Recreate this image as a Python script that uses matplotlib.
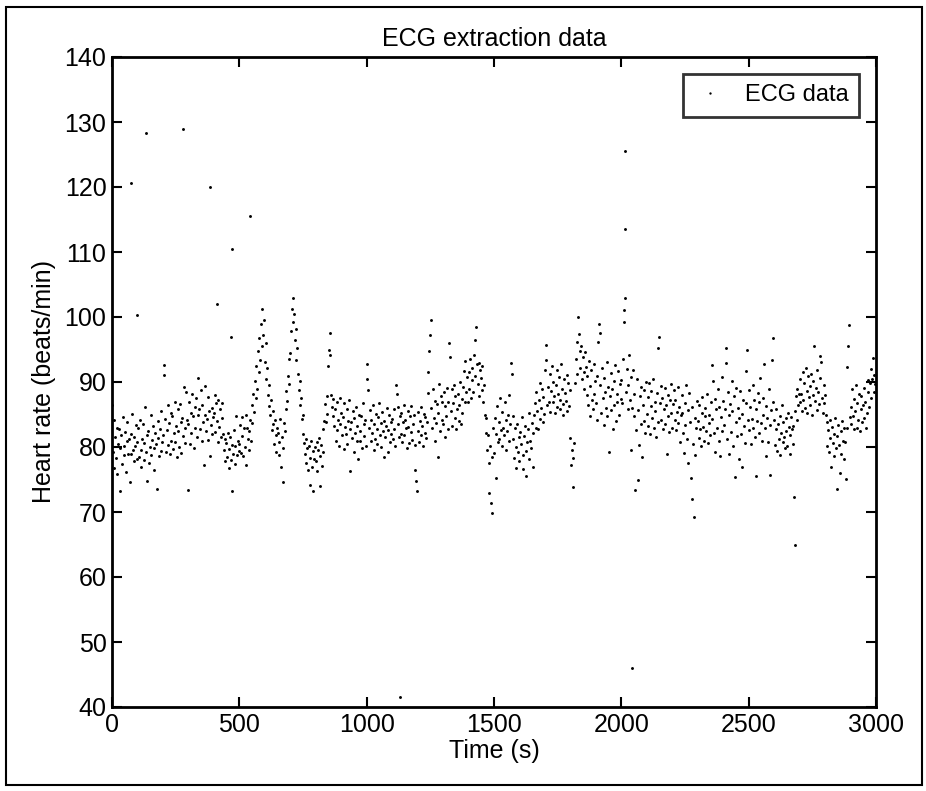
import numpy as np
import matplotlib
matplotlib.use("Agg")
import matplotlib.pyplot as plt
from matplotlib.patches import Rectangle

plt.rcParams["font.family"] = ["Liberation Sans", "DejaVu Sans"]

# Beat-by-beat heart rate (beats/min), one list per 500 s block
hr_0000_0500 = [
    86.5, 79.2, 84.1, 76.8, 81.5, 78.3, 83.0, 75.9, 80.4, 82.7, 73.2, 79.8, 81.9, 77.4, 84.6, 80.1, 78.7, 82.3, 76.2, 80.9, 83.8, 79.0, 81.2, 74.6, 78.9, 82.0, 85.1, 79.5, 77.8, 81.6, 80.2, 83.4, 78.1,
    80.8, 82.9, 78.4, 84.2, 79.6, 76.9, 81.3, 83.5, 78.0, 80.6, 86.1, 79.3, 74.8, 81.8, 82.5, 77.6, 80.0, 84.9, 78.8, 81.1, 83.2, 76.4, 79.9, 82.2, 80.5, 73.5, 81.4, 84.0, 78.6, 82.8, 79.4, 85.6, 80.7,
    81.9, 92.6, 91.1, 84.3, 79.2, 82.6, 86.4, 80.3, 83.7, 78.9, 85.2, 81.0, 84.8, 79.7, 82.1, 87.0, 80.8, 83.3, 78.4, 85.9, 82.4, 80.0, 86.6, 83.9, 79.1, 84.5, 81.7, 89.3, 82.9, 80.6, 88.5, 84.1, 73.4,
    83.6, 86.9, 80.4, 85.3, 82.2, 88.1, 84.7, 79.8, 86.2, 83.0, 87.5, 81.5, 84.9, 90.6, 85.8, 82.7, 88.8, 80.9, 86.4, 83.8, 77.2, 85.0, 89.4, 82.5, 84.3, 87.7, 81.1, 85.6, 78.6, 83.4, 86.0, 82.0, 84.6,
    85.2, 88.0, 82.3, 86.7, 84.0, 80.8, 87.3, 83.1, 85.9, 81.6, 84.4, 86.8, 82.0, 79.5, 81.2, 77.9, 80.6, 78.4, 82.1, 76.8, 79.7, 81.5, 78.0, 80.3, 73.3, 79.0, 82.6, 77.4, 80.1, 84.8, 78.8, 81.0, 79.4,
]
hr_0500_1000 = [
    80.5, 83.4, 79.1, 84.6, 81.7, 78.6, 82.9, 80.0, 85.0, 77.2, 83.0, 81.3, 79.6, 82.4, 84.2, 80.9, 86.5, 83.7, 88.1, 85.4, 90.2, 87.6, 92.5, 89.0, 94.8, 91.6, 96.7, 93.4, 98.9, 95.5, 101.2, 97.3, 99.6,
    93.1, 96.0, 90.4, 92.2, 88.0, 89.5, 86.3, 84.9, 87.2, 82.6, 85.6, 83.5, 80.4, 84.1, 81.9, 79.2, 83.0, 82.1, 78.7, 80.8, 84.3, 76.9, 81.5, 74.6, 79.9, 83.7, 82.5, 85.8, 88.6, 87.1, 91.0, 89.7, 93.6,
    94.5, 97.8, 101.3, 103.0, 99.2, 100.4, 96.5, 98.1, 93.4, 95.3, 91.2, 88.7, 90.1, 86.4, 87.5, 84.3, 82.0, 85.0, 80.6, 78.9, 81.3, 77.5, 79.8, 76.4, 80.2, 74.1, 78.3, 81.0, 77.0, 79.4, 73.2, 78.1, 80.0,
    77.8, 80.7, 76.3, 79.5, 81.4, 74.0, 78.6, 80.3, 77.1, 82.8, 79.2, 84.0, 86.6, 83.9, 87.8, 85.1, 92.5, 95.0, 97.6, 94.1, 88.0, 86.2, 84.7, 87.4, 83.2, 85.8, 81.0, 86.9, 82.6, 84.2, 80.1, 87.6, 83.5,
    85.3, 81.8, 84.6, 79.7, 86.8, 83.1, 82.0, 85.9, 80.5, 84.0, 87.3, 82.7, 76.3, 83.8, 81.4, 85.5, 79.2, 84.4, 82.2, 86.2, 80.9, 83.3, 78.1, 85.0, 82.5, 81.0, 84.8, 79.8, 86.7, 83.6, 81.7, 84.1, 80.2,
]
hr_1000_1500 = [
    92.8, 90.4, 88.7, 83.0, 85.7, 80.9, 84.2, 82.1, 86.4, 79.6, 83.5, 81.3, 85.1, 82.8, 80.4, 84.6, 86.8, 81.9, 83.7, 80.0, 85.4, 82.4, 78.5, 84.0, 81.6, 83.2, 86.0, 79.3, 82.6, 84.9, 80.7, 83.9, 82.0,
    84.3, 81.2, 85.8, 82.7, 80.1, 89.6, 88.2, 83.6, 86.1, 81.5, 84.7, 82.0, 85.3, 80.8, 83.9, 86.5, 81.8, 84.1, 82.9, 79.9, 85.6, 83.1, 80.6, 84.8, 82.3, 86.3, 81.1, 83.5, 85.0, 80.3, 76.5, 74.8, 73.2,
    82.5, 85.4, 80.7, 84.0, 81.8, 86.2, 83.3, 80.2, 85.1, 82.1, 84.6, 81.4, 83.8, 88.3, 91.6, 94.8, 97.2, 99.5, 86.0, 82.9, 88.9, 84.5, 81.0, 87.1, 83.7, 86.6, 78.5, 85.2, 89.7, 82.4, 87.8, 84.1, 86.9,
    83.6, 88.4, 81.5, 86.3, 84.8, 89.1, 82.7, 87.0, 96.0, 93.8, 85.5, 88.9, 83.2, 86.7, 89.6, 84.4, 87.9, 82.8, 85.9, 88.2, 84.0, 86.5, 90.0, 83.5, 87.4, 85.2, 89.3, 91.7, 87.0, 93.2, 88.5, 90.8, 86.9,
    91.5, 89.0, 93.6, 87.6, 92.1, 90.3, 88.4, 94.2, 91.0, 96.4, 98.5, 92.8, 89.7, 93.0, 87.9, 91.9, 90.6, 88.8, 92.5, 86.9, 89.5, 85.0, 82.1, 84.4, 79.6, 81.8, 77.5, 73.0, 80.2, 71.4, 78.4, 69.8, 83.0,
]
hr_1500_2000 = [
    79.1, 84.5, 75.2, 82.0, 86.3, 80.7, 83.9, 81.3, 87.6, 82.6, 80.1, 85.4, 83.0, 81.8, 86.9, 84.1, 79.6, 82.4, 85.0, 80.9, 88.0, 83.5, 93.0, 91.2, 81.2, 84.8, 78.3, 82.9, 80.0, 76.8, 83.6, 79.2, 81.5,
    77.9, 82.3, 80.4, 84.6, 78.8, 76.6, 81.7, 83.2, 79.4, 75.6, 80.8, 82.8, 78.2, 85.3, 81.0, 79.8, 83.7, 77.0, 82.1, 84.9, 86.7, 83.0, 88.4, 85.6, 82.7, 87.2, 89.8, 84.3, 86.0, 88.9, 83.8, 87.7, 85.1,
    91.8, 95.7, 93.4, 86.5, 89.2, 87.0, 91.3, 85.4, 88.6, 92.4, 86.9, 90.0, 87.8, 85.2, 89.6, 91.9, 86.2, 88.1, 90.7, 85.8, 87.3, 92.8, 89.0, 86.6, 84.9, 90.4, 88.3, 87.1, 91.1, 85.6, 89.9, 86.3, 88.8,
    81.4, 77.2, 79.5, 73.9, 78.3, 80.6, 89.8, 93.5, 91.2, 96.1, 100.0, 97.4, 94.8, 92.1, 95.6, 90.5, 93.9, 91.5, 89.0, 94.6, 92.3, 88.0, 90.9, 86.4, 93.2, 84.7, 89.4, 91.8, 87.3, 85.9, 92.7, 88.1, 90.2,
    86.8, 91.0, 84.2, 96.2, 99.0, 97.5, 89.5, 85.3, 92.2, 87.6, 83.4, 90.6, 88.5, 86.0, 93.1, 84.8, 89.2, 79.2, 87.9, 91.4, 85.7, 88.9, 82.8, 90.1, 86.5, 92.6, 84.0, 88.2, 86.9, 91.7, 85.0, 89.7, 87.4,
]
hr_2000_2500 = [
    90.3, 86.7, 93.5, 99.2, 101.1, 103.0, 88.4, 92.0, 85.9, 89.6, 94.1, 87.2, 79.5, 90.8, 86.0, 91.9, 84.8, 88.2, 73.4, 82.6, 90.5, 75.0, 85.7, 80.3, 87.9, 83.6, 89.3, 78.5, 86.4, 84.0, 88.8, 82.2, 90.0,
    85.1, 87.7, 83.3, 89.9, 82.0, 86.3, 88.6, 84.4, 90.5, 82.9, 87.0, 85.6, 81.6, 88.3, 83.8, 95.2, 97.0, 86.8, 89.4, 84.2, 87.5, 82.7, 85.9, 89.1, 83.5, 86.4, 79.0, 88.0, 84.7, 82.3, 87.2, 85.3, 89.7,
    83.0, 86.6, 88.8, 84.1, 87.3, 82.6, 85.4, 89.2, 83.7, 86.1, 80.8, 84.9, 88.0, 85.2, 82.1, 79.1, 86.8, 83.4, 89.6, 81.3, 85.7, 77.6, 88.3, 83.9, 75.2, 86.2, 72.0, 80.4, 69.2, 84.5, 78.8, 82.9, 87.1,
    84.0, 81.4, 86.5, 82.8, 80.2, 85.3, 87.7, 83.1, 81.0, 84.7, 86.0, 82.4, 88.2, 80.6, 85.0, 83.7, 81.9, 86.9, 84.3, 92.6, 90.1, 82.1, 87.4, 79.3, 85.8, 83.0, 88.9, 80.9, 86.2, 78.6, 84.6, 90.7, 82.5,
    87.1, 83.4, 85.9, 95.3, 93.0, 81.2, 88.4, 84.9, 79.0, 86.6, 82.3, 90.2, 85.5, 80.1, 87.8, 75.4, 83.9, 89.1, 81.7, 86.0, 78.2, 84.5, 88.6, 82.0, 85.1, 76.9, 87.3, 83.2, 80.6, 86.7, 91.7, 95.0, 84.2,
]
hr_2500_3000 = [
    88.7, 82.6, 86.1, 80.4, 84.3, 89.5, 83.0, 87.2, 81.5, 85.8, 75.6, 84.0, 88.3, 82.2, 86.9, 90.6, 83.7, 81.0, 87.6, 85.0, 92.8, 82.9, 78.6, 86.3, 84.5, 80.7, 88.9, 83.4, 75.7, 85.7, 93.4, 96.7, 87.0,
    84.1, 80.3, 82.7, 85.9, 79.4, 83.6, 81.2, 84.8, 78.7, 82.2, 86.5, 80.8, 83.9, 81.6, 79.9, 84.4, 82.5, 80.1, 85.3, 83.1, 78.9, 81.9, 84.6, 82.8, 80.5, 83.3, 72.3, 85.6, 87.9, 84.2, 89.0, 86.4, 88.1,
    86.9, 90.4, 88.2, 85.5, 91.6, 87.3, 89.8, 86.0, 92.1, 88.6, 85.2, 90.9, 87.7, 89.4, 86.4, 91.3, 84.9, 88.0, 90.1, 95.6, 87.1, 89.1, 85.7, 91.8, 88.5, 86.6, 90.6, 94.0, 93.1, 87.5, 85.3, 89.6, 86.8,
    88.0, 85.0, 83.9, 80.1, 82.6, 79.3, 84.2, 81.4, 77.0, 83.1, 80.6, 78.6, 82.0, 84.5, 79.8, 81.7, 73.6, 83.4, 80.3, 76.0, 82.4, 79.0, 84.0, 81.0, 78.2, 83.0, 80.8, 75.1, 82.9, 92.3, 95.6, 98.8, 84.6,
    86.2, 83.5, 88.9, 84.8, 82.7, 87.4, 85.6, 89.6, 83.0, 86.8, 84.1, 88.2, 82.5, 85.9, 87.8, 83.8, 86.5, 89.1, 84.4, 87.0, 82.9, 85.3, 88.5, 90.3, 86.1, 89.9, 92.0, 87.6, 90.5, 93.7, 88.4, 91.1, 89.7,
]
blocks = [hr_0000_0500, hr_0500_1000, hr_1000_1500,
          hr_1500_2000, hr_2000_2500, hr_2500_3000]
block_starts = [0, 500, 1000, 1500, 2000, 2500]
block_length = 500

# Isolated beats detected well away from the main band
spike_time = [75, 98, 134, 279, 385, 412, 467, 471, 542, 1130, 2014, 2016, 2041, 2681]
spike_hr = [120.6, 100.3, 128.3, 129.0, 120.0, 102.0, 97.0, 110.5, 115.5, 41.5, 125.5, 113.5, 46.0, 65.0]

x_ticks = [0, 500, 1000, 1500, 2000, 2500, 3000]
y_ticks = [40, 50, 60, 70, 80, 90, 100, 110, 120, 130, 140]

time = np.concatenate([
    np.linspace(s, s + block_length, len(b), endpoint=False)
    for s, b in zip(block_starts, blocks)
])
rate = np.concatenate([np.asarray(b, dtype=float) for b in blocks])
time = np.concatenate([time, spike_time])
rate = np.concatenate([rate, spike_hr])

fig = plt.figure(figsize=(9.26, 7.91), dpi=100)
ax = fig.add_axes([112 / 926, 1 - 707 / 791, 764 / 926, 650 / 791])

ax.plot(time, rate, ".", color="black", markersize=4.2, markeredgewidth=0,
        label="ECG data")

ax.set_xlim(0, 3000)
ax.set_ylim(40, 140)
ax.set_xticks(x_ticks)
ax.set_yticks(y_ticks)
ax.tick_params(direction="in", length=7, width=1.5, top=True, right=True,
               labelsize=18, pad=4)
for sp in ax.spines.values():
    sp.set_linewidth(2)

ax.set_title("ECG extraction data", fontsize=18, pad=8)
ax.set_xlabel("Time (s)", fontsize=18, labelpad=2)
ax.set_ylabel("Heart rate (beats/min)", fontsize=18, labelpad=6)

leg = ax.legend(loc="upper right", fontsize=17, frameon=True, fancybox=False,
                markerscale=0.8, handlelength=1.4, borderaxespad=0.7,
                borderpad=0.45)
leg.get_frame().set_edgecolor("black")
leg.get_frame().set_linewidth(2)

# Page frame around the whole figure
fig.patches.append(Rectangle((6 / 926, 6 / 791), 916 / 926, 778 / 791,
                             transform=fig.transFigure, fill=False,
                             edgecolor="black", linewidth=1.5))

fig.savefig("out.png", dpi=100)
